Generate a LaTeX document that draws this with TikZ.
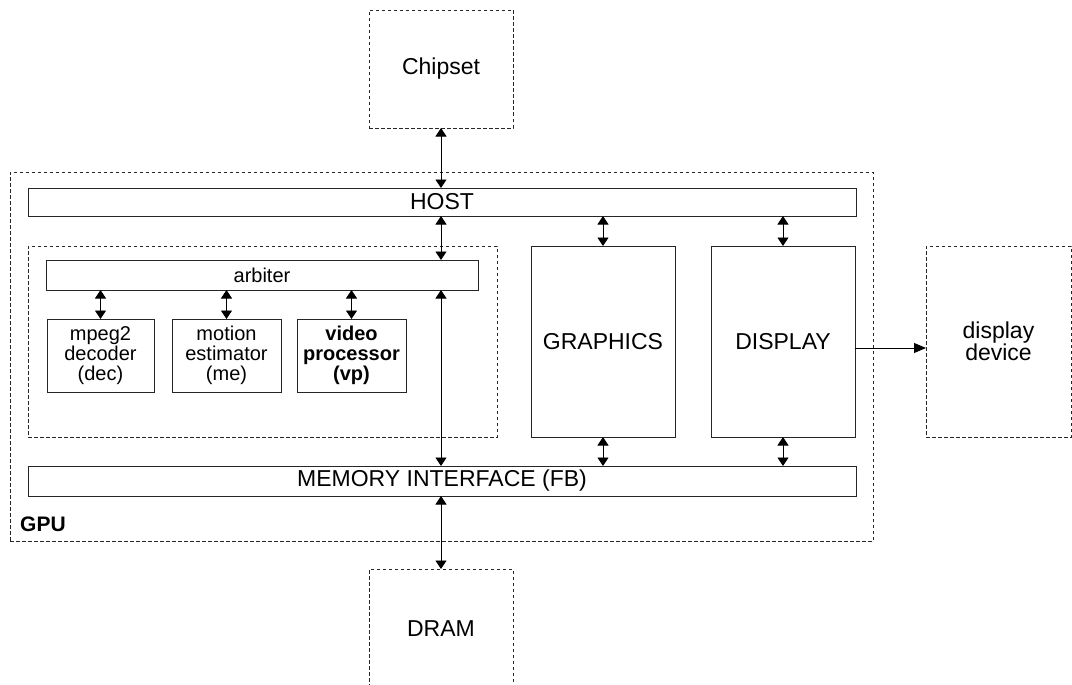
\documentclass[tikz,border=0pt]{standalone}
\usepackage{fontspec}
\setmainfont{Liberation Sans}
\usetikzlibrary{arrows.meta}
\begin{document}
\begin{tikzpicture}[x=1pt,y=-1pt,
  box/.style={draw=black!85, line width=0.9pt, inner sep=0pt, outer sep=0pt, align=center},
  dbox/.style={box, dash pattern=on 3.5pt off 2.5pt},
  big/.style={font=\fontsize{23}{22}\selectfont},
  small/.style={font=\fontsize{20}{20}\selectfont},
  dbl/.style={line width=0.9pt, {Triangle[length=8.5pt,width=11pt]}-{Triangle[length=8.5pt,width=11pt]}},
  sgl/.style={line width=0.9pt, -{Triangle[length=12pt,width=10pt]}}]
\useasboundingbox (0,0) rectangle (1072,685);
\clip (0,0) rectangle (1072,685);
% outer containers
\node[dbox, minimum width=863pt, minimum height=369pt] (gpu) at (441.5,356.5) {};
\node[dbox, minimum width=469pt, minimum height=191pt] (inner) at (262.5,341.5) {};
% external
\node[dbox, big, minimum width=144pt, minimum height=118pt] (chip) at (441,69) {Chipset};
\node[dbox, big, minimum width=144pt, minimum height=119pt] (dram) at (441,628.5) {DRAM};
\node[dbox, big, minimum width=145pt, minimum height=191pt] (dev) at (998.5,341.5) {display\\device};
% GPU internals
\node[box, big, minimum width=828pt, minimum height=28pt] (host) at (442,202) {HOST};
\node[box, big, minimum width=828pt, minimum height=30pt] (mem) at (442,481) {MEMORY INTERFACE (FB)};
\node[box, small, minimum width=432pt, minimum height=30pt] (arb) at (262,275) {arbiter};
\node[box, small, minimum width=107pt, minimum height=73pt] (dec) at (100.5,355.5) {mpeg2\\decoder\\(dec)};
\node[box, small, minimum width=109pt, minimum height=73pt] (me) at (226.5,355.5) {motion\\estimator\\(me)};
\node[box, small, minimum width=109pt, minimum height=73pt, font=\bfseries\fontsize{20}{20}\selectfont] (vp) at (351.5,355.5) {video\\processor\\(vp)};
\node[box, big, minimum width=144pt, minimum height=191pt] (gfx) at (603,341.5) {GRAPHICS};
\node[box, big, minimum width=144pt, minimum height=191pt] (disp) at (783,341.5) {DISPLAY};
\node[anchor=base west, inner sep=0pt, font=\bfseries\fontsize{21}{21}\selectfont] (gpulabel) at (20,531) {GPU};
% connectors
\draw[dbl] (chip.south) -- (chip.south |- host.north);
\draw[dbl] (host.south -| chip.south) -- (arb.north -| chip.south);
\draw[dbl] (arb.south -| chip.south) -- (mem.north -| chip.south);
\draw[dbl] (mem.south -| chip.south) -- (dram.north);
\draw[dbl] (arb.south -| dec.north) -- (dec.north);
\draw[dbl] (arb.south -| me.north) -- (me.north);
\draw[dbl] (arb.south -| vp.north) -- (vp.north);
\draw[dbl] (host.south -| gfx.north) -- (gfx.north);
\draw[dbl] (gfx.south) -- (mem.north -| gfx.south);
\draw[dbl] (host.south -| disp.north) -- (disp.north);
\draw[dbl] (disp.south) -- (mem.north -| disp.south);
\draw[sgl] ([yshift=-6.5pt]disp.east) -- ([yshift=-6.5pt]dev.west);
\end{tikzpicture}
\end{document}
